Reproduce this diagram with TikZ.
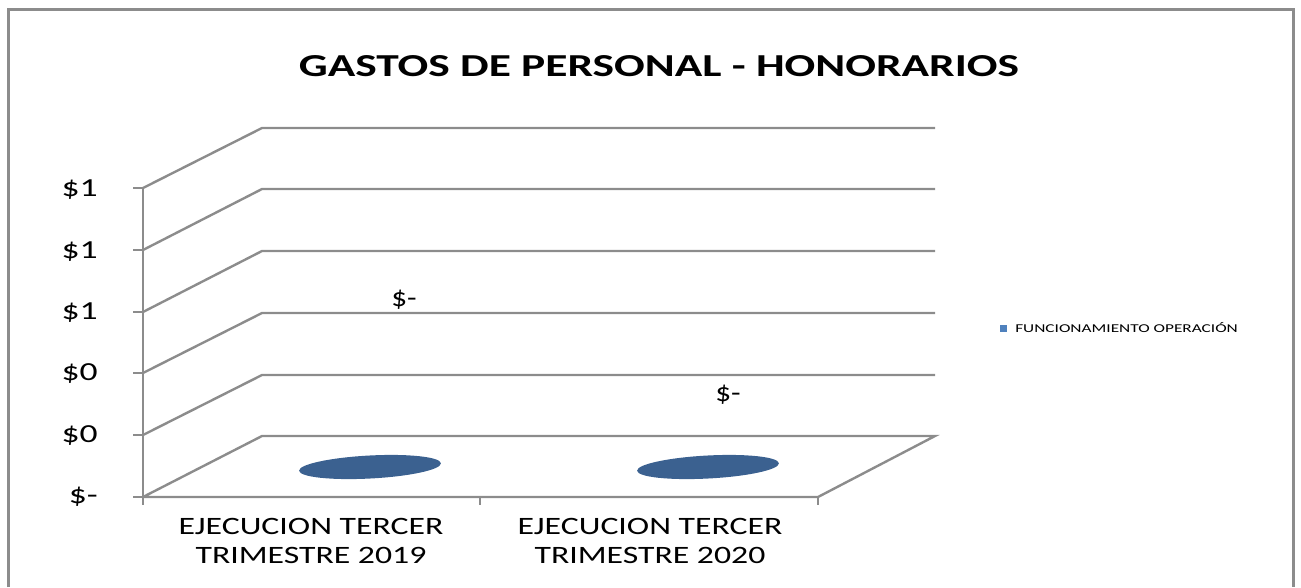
\documentclass[tikz,border=0pt]{standalone}
\usepackage{fontspec}
\setmainfont{Carlito}
\usetikzlibrary{shapes.geometric}
\definecolor{grisgrille}{HTML}{8C8C8C}
\definecolor{bleuserie}{HTML}{3B6190}
\definecolor{bleulegende}{HTML}{4F81BD}

\begin{document}
\begin{tikzpicture}[x=1pt,y=-1pt,
    grille/.style={draw=grisgrille, line width=2.4pt},
    valeur/.style={font=\fontsize{26}{28}\selectfont, anchor=east, xscale=1.37, inner sep=0pt},
    categorie/.style={font=\fontsize{25}{29}\selectfont, align=center, xscale=1.35, inner sep=0pt},
    etiquette/.style={font=\fontsize{26}{28}\selectfont, xscale=1.2, inner sep=0pt},
    disque/.style={fill=bleuserie, draw=none, ellipse, rotate=3}]
    \useasboundingbox (0,0) rectangle (1301,587);
    % cadre du graphique
    \draw[draw=grisgrille, line width=3pt] (8,587) -- (8,9) -- (1293,9) -- (1293,587);
    \node[font=\bfseries\fontsize{32}{34}\selectfont, xscale=1.42, inner sep=0pt] (titre) at (659,66) {GASTOS DE PERSONAL - HONORARIOS};

    % sol et murs
    \coordinate (f0) at (143,497);
    \coordinate (b0) at (262,436);
    \coordinate (bd) at (935,436);
    \coordinate (fd) at (818,497);
    \draw[grille] (f0) -- (b0) -- (bd) -- (fd) -- (f0);
    \foreach \i/\yf/\yb in {1/435/375, 2/373/313, 3/312/251, 4/250/189, 5/188/128} {
        \coordinate (f\i) at (143,\yf);
        \coordinate (b\i) at (262,\yb);
        \draw[grille] (f\i) -- (b\i) -- (935,\yb);
    }
    \draw[grille] (f5) -- (143,505);
    \foreach \i in {0,...,5} \draw[grille] (f\i) -- ++(-10,0);
    \foreach \x in {143,480,818} \draw[grille] (\x,497) -- (\x,505);

    % axe des valeurs
    \node[valeur] (v0) at (98,497) {\$-};
    \node[valeur] (v1) at (98,436) {\$0};
    \node[valeur] (v2) at (98,374) {\$0};
    \node[valeur] (v3) at (98,313) {\$1};
    \node[valeur] (v4) at (98,252) {\$1};
    \node[valeur] (v5) at (98,190) {\$1};

    % series
    \node[disque, minimum width=142pt, minimum height=23pt] (d2019) at (370,467) {};
    \node[disque, minimum width=142pt, minimum height=23pt] (d2020) at (708,467) {};
    \node[etiquette] (e2019) at (404,300) {\$-};
    \node[etiquette] (e2020) at (728,395) {\$-};

    % categories
    \node[categorie] (c2019) at (311,541) {EJECUCION TERCER\\TRIMESTRE 2019};
    \node[categorie] (c2020) at (650,541) {EJECUCION TERCER\\TRIMESTRE 2020};

    % legende
    \node[fill=bleulegende, minimum size=7pt, inner sep=0pt] (carre) at (1003,328) {};
    \node[anchor=west, font=\fontsize{12}{13}\selectfont, xscale=1.44, inner sep=0pt] (leg) at (1015,328) {FUNCIONAMIENTO OPERACIÓN};
\end{tikzpicture}
\end{document}
